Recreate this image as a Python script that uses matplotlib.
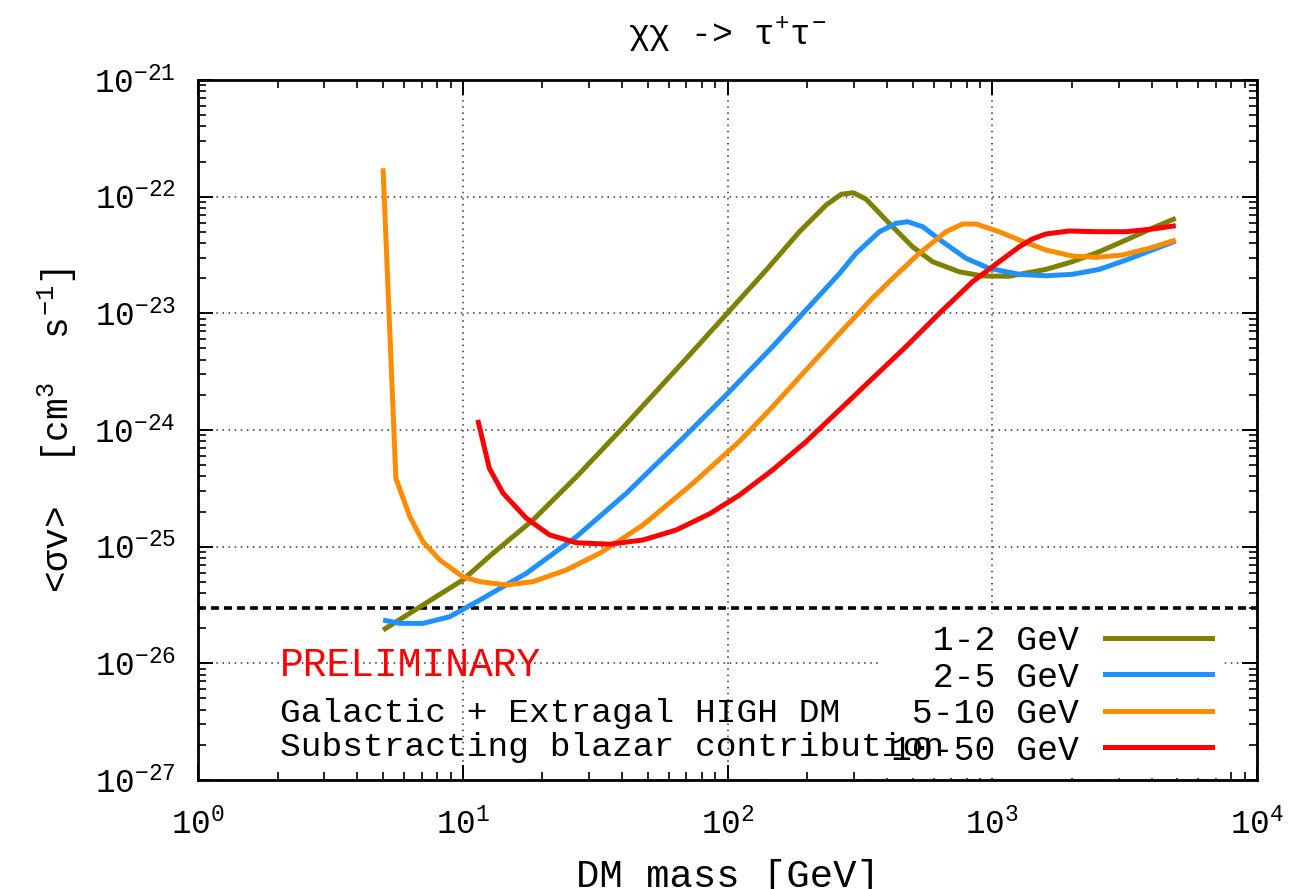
import numpy as np
import matplotlib
matplotlib.use("Agg")
import matplotlib.pyplot as plt
from matplotlib.lines import Line2D

plt.rcParams['font.family'] = ['Liberation Mono', 'DejaVu Sans Mono']
plt.rcParams['mathtext.fontset'] = 'custom'
plt.rcParams['mathtext.rm'] = 'Liberation Mono'
plt.rcParams['mathtext.it'] = 'Liberation Mono'
plt.rcParams['mathtext.bf'] = 'Liberation Mono'

# 1-2 GeV
mass_12 = [5.0, 10.0, 13.0, 18.4, 26.9, 40.3, 71.9, 98.9, 140, 187, 236, 269, 299, 334,
           408, 500, 595, 751, 919, 1159, 1595, 2005, 2535, 3197, 4018, 4932]
sv_12 = [1.93e-26, 5.18e-26, 8.77e-26, 1.69e-25, 3.98e-25, 1.05e-24, 4.40e-24, 9.8e-24,
         2.35e-23, 5.01e-23, 8.49e-23, 1.05e-22, 1.08e-22, 9.5e-23, 5.91e-23, 3.72e-23,
         2.77e-23, 2.27e-23, 2.09e-23, 2.08e-23, 2.38e-23, 2.77e-23, 3.37e-23, 4.25e-23,
         5.36e-23, 6.53e-23]

# 2-5 GeV
mass_25 = [5.0, 5.79, 7.08, 8.93, 11.6, 17.4, 26.9, 41.5, 67.8, 98.9, 148, 198, 265, 306,
           375, 433, 479, 546, 649, 796, 974, 1265, 1595, 2005, 2535, 3197, 4018, 4932]
sv_25 = [2.35e-26, 2.20e-26, 2.20e-26, 2.51e-26, 3.49e-26, 5.92e-26, 1.22e-25, 2.87e-25,
         8.49e-25, 2.0e-24, 5.18e-24, 1.07e-23, 2.20e-23, 3.27e-23, 5.01e-23, 5.91e-23,
         6.10e-23, 5.53e-23, 4.11e-23, 2.96e-23, 2.43e-23, 2.16e-23, 2.10e-23, 2.16e-23,
         2.38e-23, 2.86e-23, 3.49e-23, 4.17e-23]

# 5-10 GeV
mass_510 = [5.0, 5.59, 6.31, 7.08, 8.19, 10.0, 11.6, 14.6, 18.4, 24.6, 32.9, 47.9, 74.0,
            111, 148, 198, 265, 353, 421, 530, 669, 773, 868, 1062, 1265, 1595, 2005,
            2462, 3097, 3910, 4932]
sv_510 = [1.75e-22, 3.86e-25, 1.81e-25, 1.10e-25, 7.69e-26, 5.53e-26, 5.01e-26, 4.70e-26,
          5.01e-26, 6.31e-26, 8.77e-26, 1.53e-25, 3.49e-25, 8.0e-25, 1.58e-24, 3.27e-24,
          6.74e-24, 1.35e-23, 2.0e-23, 3.27e-23, 5.01e-23, 5.83e-23, 5.83e-23, 5.01e-23,
          4.25e-23, 3.49e-23, 3.10e-23, 3.02e-23, 3.16e-23, 3.61e-23, 4.25e-23]

# 10-50 GeV
mass_1050 = [11.4, 12.6, 14.2, 17.4, 21.3, 26.9, 35.9, 47.9, 64.0, 85.5, 111, 148, 198,
             265, 353, 472, 631, 843, 1062, 1265, 1416, 1595, 1953, 2462, 3197, 4018, 4932]
sv_1050 = [1.22e-24, 4.70e-25, 2.87e-25, 1.75e-25, 1.26e-25, 1.08e-25, 1.05e-25, 1.14e-25,
           1.39e-25, 1.91e-25, 2.77e-25, 4.54e-25, 7.94e-25, 1.49e-24, 2.77e-24, 5.18e-24,
           1.0e-23, 1.87e-23, 2.77e-23, 3.72e-23, 4.34e-23, 4.79e-23, 5.08e-23, 5.01e-23,
           5.01e-23, 5.28e-23, 5.64e-23]

thermal_sv = 3e-26

labels = ['  1-2 GeV', '  2-5 GeV', ' 5-10 GeV', '10-50 GeV']
colors = ['#808000', '#1E90FF', '#FF8C00', '#FF0000']

fig = plt.figure(figsize=(13.06, 8.89), dpi=100)
ax = fig.add_axes([0.1516, 0.1226, 0.8109, 0.7874])

series = [(mass_12, sv_12), (mass_25, sv_25), (mass_510, sv_510), (mass_1050, sv_1050)]
for (m, s), c in zip(series, colors):
    ax.plot(m, s, color=c, lw=3.6, solid_capstyle='butt', zorder=3)

ax.axhline(thermal_sv, color='black', lw=2.6, ls=(0, (2.2, 1.4)), zorder=2)

ax.set_xscale('log')
ax.set_yscale('log')
ax.set_xlim(1, 1e4)
ax.set_ylim(1e-27, 1e-21)

ax.grid(True, which='major', ls=(0, (1, 3)), color='#333333', lw=1.1)
ax.tick_params(which='both', direction='in', top=True, right=True, labelsize=23.5)
ax.tick_params(which='major', length=11, width=1.4)
ax.tick_params(which='minor', length=5.5, width=1.2)
ax.tick_params(axis='x', pad=20)
ax.tick_params(axis='y', pad=16)
for sp in ax.spines.values():
    sp.set_linewidth(2)

fig.text(0.557, 0.961, 'χχ -> τ$^{+}$τ$^{-}$', ha='center', va='center', fontsize=25)
fig.text(0.557, 0.013, 'DM mass [GeV]', ha='center', va='center', fontsize=28)
fig.text(0.044, 0.516, '<σv>  [cm$^{3}$  s$^{-1}$]', ha='center', va='center',
         rotation=90, fontsize=26)

handles = [Line2D([], [], color=c, lw=3.6) for c in colors]
leg = ax.legend(handles, labels, loc='center right', bbox_to_anchor=(0.984, 0.121),
                markerfirst=False, fontsize=25, frameon=True, framealpha=1,
                edgecolor='white', facecolor='white', fancybox=False,
                handlelength=3.1, handletextpad=0.75, labelspacing=0.1,
                borderpad=0.3)
leg.set_zorder(5)

ax.text(0.0774, 0.164, 'PRELIMINARY', color='#FF0000', fontsize=28.5,
        transform=ax.transAxes, va='center', ha='left', zorder=6)
ax.text(0.0774, 0.0957, 'Galactic + Extragal HIGH DM', fontsize=24.8,
        transform=ax.transAxes, va='center', ha='left', zorder=6)
ax.text(0.0774, 0.047, 'Substracting blazar contribution', fontsize=24.8,
        transform=ax.transAxes, va='center', ha='left', zorder=6)

fig.savefig('out.png', dpi=100)
